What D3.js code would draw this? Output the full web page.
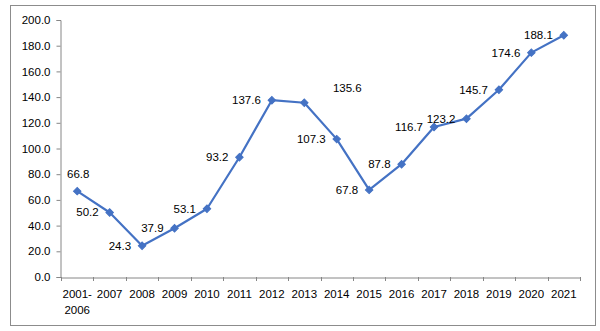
<!DOCTYPE html>
<html><head><meta charset="utf-8">
<script src="https://cdn.jsdelivr.net/npm/d3@7/dist/d3.min.js"></script>
<style>
html,body{margin:0;padding:0;background:#fff;}
svg{display:block;font-family:"Liberation Sans",Arial,sans-serif;}
</style></head>
<body>
<svg id="chart" width="600" height="331"></svg>
<script>
const categories = ["2001-2006","2007","2008","2009","2010","2011","2012","2013","2014","2015","2016","2017","2018","2019","2020","2021"];
const values = [66.8,50.2,24.3,37.9,53.1,93.2,137.6,135.6,107.3,67.8,87.8,116.7,123.2,145.7,174.6,188.1];
const yTicks = [0,20,40,60,80,100,120,140,160,180,200];
// label placement per point (style), separate from data
const labelPlacement = ["above","left","left","left","left","left","left","upright","left","left","left","left","left","left","left","left"];

const svg = d3.select("#chart");
const plot = {left: 61, right: 580, top: 20, bottom: 277};

svg.append("rect").attr("x",10.5).attr("y",5.5).attr("width",585).attr("height",320)
  .attr("fill","#fff").attr("stroke","#8c8c8c").attr("stroke-width",1);

const x = d3.scaleBand().domain(categories).range([plot.left, plot.right]).padding(0);
const y = d3.scaleLinear().domain([0,200]).range([plot.bottom, plot.top]);

const font = "Liberation Sans, Arial, sans-serif";

// Y axis
const yAxis = svg.append("g").attr("transform",`translate(${plot.left-0.5},0)`)
  .call(d3.axisLeft(y).tickValues(yTicks).tickFormat(d3.format(".1f")).tickSize(4).tickPadding(6));
yAxis.selectAll("path,line").attr("stroke","#868686");
yAxis.selectAll("text").attr("font-size",11.5).attr("fill","#000").attr("font-family",font);

// X axis
const xAxis = svg.append("g").attr("transform",`translate(0,${plot.bottom+0.5})`)
  .call(d3.axisBottom(x).tickSize(0).tickPadding(12));
xAxis.select("path").attr("stroke","#868686");
xAxis.selectAll("text").attr("font-size",11.5).attr("fill","#000").attr("font-family",font)
  .each(function(d){
    if (d.indexOf("-")>=0){
      const t = d3.select(this); const parts = d.split("-");
      t.text(null);
      t.append("tspan").attr("x",0).attr("dy","0.71em").text(parts[0]+"-");
      t.append("tspan").attr("x",0).attr("dy","1.4em").text(parts[1]);
      t.attr("dy",null);
    }
  });
// boundary ticks
const bounds = categories.map(c=>x(c)).concat([x(categories[categories.length-1])+x.bandwidth()]);
svg.append("g").selectAll("line").data(bounds).join("line")
  .attr("x1",d=>Math.round(d)+0.5).attr("x2",d=>Math.round(d)+0.5)
  .attr("y1",plot.bottom).attr("y2",plot.bottom+4).attr("stroke","#868686");

const cx = c => x(c)+x.bandwidth()/2;
const line = d3.line().x((d,i)=>cx(categories[i])).y(d=>y(d));
svg.append("path").datum(values).attr("d",line).attr("fill","none")
  .attr("stroke","#4472C4").attr("stroke-width",2.2).attr("stroke-linejoin","round");

svg.append("g").selectAll("path").data(values).join("path")
  .attr("d",d3.symbol().type(d3.symbolSquare).size(28))
  .attr("transform",(d,i)=>`translate(${cx(categories[i])},${y(d)}) rotate(45)`)
  .attr("fill","#4472C4").attr("stroke","#4472C4").attr("stroke-width",1);

svg.append("g").selectAll("text").data(values).join("text")
  .attr("font-size",11.5).attr("fill","#000").attr("font-family",font)
  .attr("x",(d,i)=>{
    const p = labelPlacement[i], px = cx(categories[i]);
    if (p==="above") return px+1;
    if (p==="upright") return px+43;
    return px-11;
  })
  .attr("y",(d,i)=>{
    const p = labelPlacement[i], py = y(d);
    if (p==="above") return py-17;
    if (p==="upright") return py-15;
    return py;
  })
  .attr("text-anchor",(d,i)=>labelPlacement[i]==="left"?"end":"middle")
  .attr("dominant-baseline","central")
  .text(d=>d.toFixed(1));
</script>
</body></html>
